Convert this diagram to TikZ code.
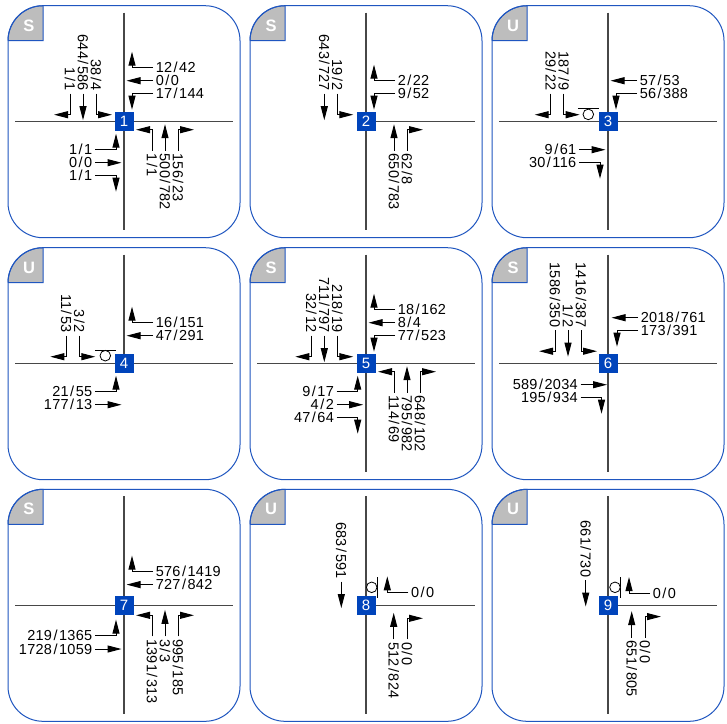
\documentclass[tikz,border=0pt]{standalone}
\usepackage{fontspec}
\setmainfont{Liberation Sans}
\newfontfamily\labfont{Liberation Sans}[LetterSpace=2]
\usetikzlibrary{arrows.meta,calc}
\definecolor{panelblue}{HTML}{1F56C0}
\definecolor{nodeblue}{HTML}{0044BB}
\definecolor{cornergrey}{HTML}{BDBDBD}
\tikzset{
  x=1pt,y=-1pt,
  lab/.style={inner sep=2.8pt,outer sep=0pt,text=black,font=\labfont\fontsize{14.5}{14.5}\selectfont},
  labN/.style={lab,rotate=-90,anchor=east},
  labS/.style={lab,rotate=-90,anchor=west},
  labE/.style={lab,anchor=west},
  labW/.style={lab,anchor=east},
  mover/.style={line width=1pt,black,-{Triangle[length=14pt,width=7pt]}},
  axis/.style={line width=1.4pt,black!72},
  panelbox/.style={line width=1pt,draw=panelblue,rounded corners=35pt},
  cornerbox/.style={line width=1pt,draw=panelblue,fill=cornergrey},
  cornerlab/.style={text=white,inner sep=0pt,font=\bfseries\fontsize{16.5}{16.5}\selectfont},
  junction/.style={fill=nodeblue,text=white,minimum size=19pt,inner sep=0pt,font=\fontsize{15}{15}\selectfont},
  ped/.style={line width=.8pt,black},
  pedcircle/.style={line width=.8pt,black,circle,draw,fill=white,minimum size=10.6pt,inner sep=0pt},
}
\def\ratio#1/#2\relax{#1\kern1.5pt/\kern1.5pt#2}
% #1 label style, #2 x, #3 y, #4 ux, #5 uy, #6 perpx, #7 perpy, #8 turn sign, #9 text
\newcommand\mvgen[9]{%
  \node[#1] (lab) at (#2,#3) {\ratio#9\relax};
  \coordinate (bend) at ($(#2,#3)+(21*#4,21*#5)$);
  \ifnum#8=0
    \coordinate (tip) at ($(#2,#3)+(26.5*#4,26.5*#5)$);
    \draw[mover] (#2,#3) -- (tip);
  \else
    \coordinate (tip) at ($(bend)+(16*#6*#8,16*#7*#8)$);
    \draw[mover] (#2,#3) -- (bend) -- (tip);
  \fi}
\newcommand\mvN[4]{\mvgen{labN}{#1}{#2}{0}{1}{1}{0}{#3}{#4}}
\newcommand\mvS[4]{\mvgen{labS}{#1}{#2}{0}{-1}{1}{0}{#3}{#4}}
\newcommand\mvE[4]{\mvgen{labE}{#1}{#2}{-1}{0}{0}{1}{#3}{#4}}
\newcommand\mvW[4]{\mvgen{labW}{#1}{#2}{1}{0}{0}{1}{#3}{#4}}
% #1 cx, #2 cy, #3 number, #4 letter, #5 west, #6 east, #7 north, #8 south, #9 body
\newcommand\panel[9]{%
  \begin{scope}[shift={(#1,#2)}]
    \draw[cornerbox] (-116,-81) -- (-81,-81) -- (-81,-116) [rounded corners=35pt] -- (-116,-116) -- (-116,-81);
    \node[cornerlab] (cl#3) at (-95,-96) {#4};
    \draw[panelbox] (-116,-116) rectangle (116,116);
    \coordinate (w) at (#5,0);
    \coordinate (e) at (#6,0);
    \coordinate (n) at (0,#7);
    \coordinate (s) at (0,#8);
    \draw[axis] (w) -- (e);
    \draw[axis] (n) -- (s);
    #9
    \node[junction] (j#3) at (0,0) {#3};
  \end{scope}}
\newcommand\pedH[2]{% circle below a horizontal bar
  \coordinate (pa) at (#1-10.5,-13.3);
  \coordinate (pb) at (#1+10.2,-13.3);
  \draw[ped] (pa) -- (pb);
  \node[pedcircle] (pc) at (#1,#2) {};}
\newcommand\pedV[2]{% circle left of a vertical bar
  \coordinate (pa) at (#1+5.3,-28);
  \coordinate (pb) at (#1+5.3,-7.7);
  \draw[ped] (pa) -- (pb);
  \node[pedcircle] (pc) at (#1,#2) {};}
\begin{document}
\begin{tikzpicture}
\useasboundingbox[fill=white] (0,0) rectangle (727,723);
\panel{124}{121.7}{1}{S}{-109}{109}{-109}{108.5}{
  \mvN{-54}{-28}{-1}{1/1}\mvN{-41}{-28}{0}{644/586}\mvN{-28}{-28}{1}{38/4}
  \mvE{29}{-54}{-1}{12/42}\mvE{29}{-41}{0}{0/0}\mvE{29}{-28}{1}{17/144}
  \mvS{28}{29}{-1}{1/1}\mvS{41}{29}{0}{500/782}\mvS{54}{29}{1}{156/23}
  \mvW{-29}{28}{-1}{1/1}\mvW{-29}{41}{0}{0/0}\mvW{-29}{54}{1}{1/1}
}
\panel{366}{121.7}{2}{S}{0}{109}{-109}{108.5}{
  \mvN{-41.7}{-28}{0}{643/727}\mvN{-28.7}{-28}{1}{19/2}
  \mvE{29}{-41}{-1}{2/22}\mvE{29}{-28}{1}{9/52}
  \mvS{28}{29}{0}{650/783}\mvS{41}{29}{1}{62/8}
}
\panel{608}{121.7}{3}{U}{-109}{109}{-109}{108.5}{
  \mvN{-57.3}{-28}{-1}{29/22}\mvN{-44.3}{-28}{1}{187/9}
  \mvE{29}{-41}{0}{57/53}\mvE{29}{-28}{1}{56/388}
  \mvW{-29}{28}{0}{9/61}\mvW{-29}{41}{1}{30/116}
  \pedH{-19.7}{-7.3}
}
\panel{124}{363.7}{4}{U}{-109}{109}{-109}{0}{
  \mvN{-57.7}{-28}{-1}{11/53}\mvN{-44.7}{-28}{1}{3/2}
  \mvE{29}{-41}{-1}{16/151}\mvE{29}{-28}{0}{47/291}
  \mvW{-29}{28}{-1}{21/55}\mvW{-29}{41}{0}{177/13}
  \pedH{-18.7}{-8}
}
\panel{366}{363.7}{5}{S}{-109}{109}{-109}{108.5}{
  \mvN{-54.7}{-28}{-1}{32/12}\mvN{-41.7}{-28}{0}{711/797}\mvN{-28.7}{-28}{1}{218/19}
  \mvE{29}{-54}{-1}{18/162}\mvE{29}{-41}{0}{8/4}\mvE{29}{-28}{1}{77/523}
  \mvS{28}{29}{-1}{114/69}\mvS{41}{29}{0}{795/982}\mvS{54}{29}{1}{648/102}
  \mvW{-29.3}{28}{-1}{9/17}\mvW{-29.3}{41}{0}{4/2}\mvW{-29.3}{54}{1}{47/64}
}
\panel{608}{363.7}{6}{S}{-109}{109}{-109}{108.5}{
  \mvN{-53}{-33.5}{-1}{1586/350}\mvN{-40}{-33.5}{0}{1/2}\mvN{-27}{-33.5}{1}{1416/387}
  \mvE{30}{-46}{0}{2018/761}\mvE{30}{-33}{1}{173/391}
  \mvW{-27.5}{21}{0}{589/2034}\mvW{-27.5}{34}{1}{195/934}
}
\panel{124}{605.3}{7}{S}{-109}{109}{-109}{108.5}{
  \mvE{29}{-33.7}{-1}{576/1419}\mvE{29}{-20.7}{0}{727/842}
  \mvS{28}{31}{-1}{1391/313}\mvS{41}{31}{0}{3/3}\mvS{54}{31}{1}{995/185}
  \mvW{-29}{30.3}{-1}{219/1365}\mvW{-29}{43.7}{0}{1728/1059}
}
\panel{366}{605.3}{8}{U}{0}{109}{-109}{109}{
  \mvN{-24.7}{-23.7}{0}{683/591}
  \mvE{42.3}{-13}{-1}{0/0}
  \mvS{27.7}{34}{0}{512/824}\mvS{41}{34}{1}{0/0}
  \pedV{5.7}{-18}
}
\panel{608}{605.3}{9}{U}{0}{109}{-109}{109}{
  \mvN{-22.3}{-25.3}{0}{661/730}
  \mvE{42}{-12.3}{-1}{0/0}
  \mvS{23.7}{32.3}{0}{651/805}\mvS{37}{32.3}{1}{0/0}
  \pedV{7}{-18}
}
\end{tikzpicture}
\end{document}
